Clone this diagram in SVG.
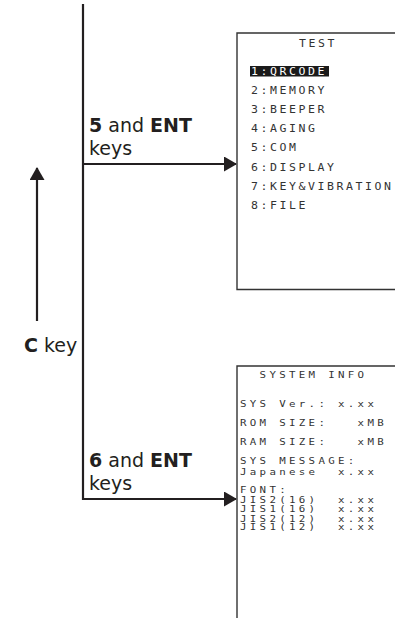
<svg xmlns="http://www.w3.org/2000/svg" width="395" height="618" viewBox="0 0 395 618">
<style>
.ln{stroke:#231f20;stroke-width:2.2;fill:none}
.bx{stroke:#333;stroke-width:1.4;fill:none}
.lbl{font-family:"DejaVu Sans","Open Sans",sans-serif;font-size:19px;fill:#231f20}
.b{font-weight:bold}
.s1{font-family:"DejaVu Sans Mono",monospace;font-size:9.6px;letter-spacing:2.14px;fill:#333}
.s2{font-family:"DejaVu Sans Mono",monospace;font-size:9px;letter-spacing:2.75px;fill:#333;white-space:pre}
</style>
<defs>
<marker id="ah" markerWidth="13" markerHeight="15" refX="12" refY="7.5" orient="auto" markerUnits="userSpaceOnUse">
<path d="M0,0 L13,7.5 L0,15 Z" fill="#231f20"/>
</marker>
</defs>
<g id="connectors">
<line class="ln" x1="83" y1="4" x2="83" y2="500"/>
<line class="ln" x1="82" y1="164" x2="236" y2="164" marker-end="url(#ah)"/>
<line class="ln" x1="82" y1="499" x2="236" y2="499" marker-end="url(#ah)"/>
<line class="ln" x1="37" y1="321" x2="37" y2="168" marker-end="url(#ah)"/>
</g>
<g id="label-5ent">
<text class="lbl" x="89" y="132"><tspan class="b">5</tspan> and <tspan class="b">ENT</tspan></text>
<text class="lbl" x="89" y="155">keys</text>
</g>
<g id="label-6ent">
<text class="lbl" x="89" y="467"><tspan class="b">6</tspan> and <tspan class="b">ENT</tspan></text>
<text class="lbl" x="89" y="490">keys</text>
</g>
<g id="label-ckey">
<text class="lbl" x="24" y="352"><tspan class="b">C</tspan> key</text>
</g>
<g id="screen-test">
<path class="bx" d="M395,33 H237 V289.5 H395"/>
<rect x="250" y="66" width="79" height="10.5" fill="#1a1a1a"/>
<g transform="translate(251 0) scale(1.2 1)">
<text class="s1" x="40" y="47">TEST</text>
<text class="s1" x="0" y="75" style="fill:#fff">1:QRCODE</text>
<text class="s1" x="0" y="94.5">2:MEMORY</text>
<text class="s1" x="0" y="113.5">3:BEEPER</text>
<text class="s1" x="0" y="132.5">4:AGING</text>
<text class="s1" x="0" y="151.5">5:COM</text>
<text class="s1" x="0" y="171">6:DISPLAY</text>
<text class="s1" x="0" y="190">7:KEY&amp;VIBRATION</text>
<text class="s1" x="0" y="209">8:FILE</text>
</g>
</g>
<g id="screen-sysinfo">
<path class="bx" d="M395,366 H237 V618"/>
<g transform="translate(240 0) scale(1.2 1)">
<text class="s2" x="0" y="378.5">  SYSTEM INFO</text>
<text class="s2" x="0" y="407.5">SYS Ver.: x.xx</text>
<text class="s2" x="0" y="426.5">ROM SIZE:   xMB</text>
<text class="s2" x="0" y="445.5">RAM SIZE:   xMB</text>
<text class="s2" x="0" y="464.5">SYS MESSAGE:</text>
<text class="s2" x="0" y="475">Japanese  x.xx</text>
<text class="s2" x="0" y="493.5">FONT:</text>
<text class="s2" x="0" y="503">JIS2(16)  x.xx</text>
<text class="s2" x="0" y="512.5">JIS1(16)  x.xx</text>
<text class="s2" x="0" y="521.5">JIS2(12)  x.xx</text>
<text class="s2" x="0" y="530.5">JIS1(12)  x.xx</text>
</g>
</g>
</svg>
